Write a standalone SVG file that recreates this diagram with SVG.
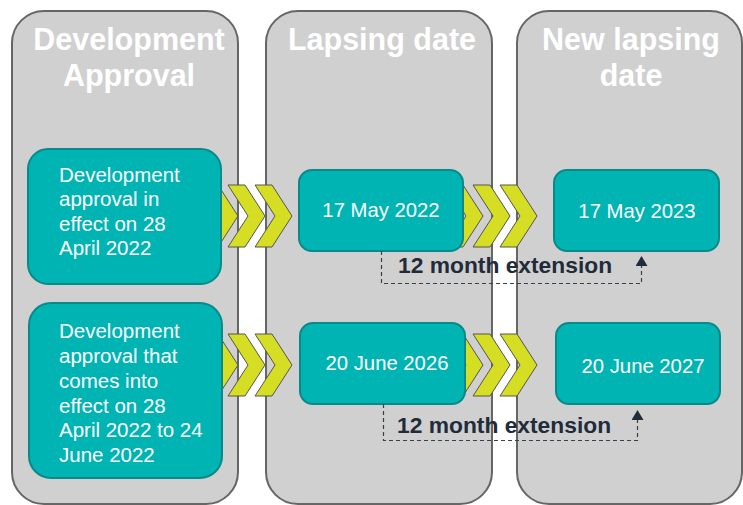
<svg xmlns="http://www.w3.org/2000/svg" width="743" height="505" viewBox="0 0 743 505">
<style>
.col{fill:#d0d0d0;stroke:#666;stroke-width:2}
.hdr{font-family:"Liberation Sans",Arial,sans-serif;font-weight:bold;font-size:30.5px;fill:#fff;text-anchor:middle}
.box{fill:#00b4b4;stroke:#088a8a;stroke-width:2}
.bt{font-family:"Liberation Sans",Arial,sans-serif;font-size:20.5px;fill:#fff}
.dt{font-family:"Liberation Sans",Arial,sans-serif;font-size:20.3px;fill:#fff;text-anchor:middle}
.chev{fill:#d6de23;stroke:#555;stroke-width:1}
.dash{fill:none;stroke:#3a3f48;stroke-width:1.2;stroke-dasharray:4 3}
.lbl{font-family:"Liberation Sans",Arial,sans-serif;font-weight:bold;font-size:22.8px;fill:#222b3a}
</style>
<defs>
<path id="chev" d="M0,-31 h17 l20,31 l-20,31 h-17 l20,-31 z"/>
<marker id="ah" viewBox="0 0 10 12" refX="10" refY="6" markerWidth="10" markerHeight="12" markerUnits="userSpaceOnUse" orient="auto">
<path d="M0,0 L10,6 L0,12 z" fill="#222b3a"/>
</marker>
</defs>
<rect width="743" height="505" fill="#fff"/>
<g id="col-approval"><rect class="col" x="12" y="11" width="226" height="493" rx="32"/>
<text class="hdr" x="129" y="50">Development</text><text class="hdr" x="129" y="86">Approval</text></g>
<g id="col-lapsing"><rect class="col" x="266" y="11" width="226" height="493" rx="32"/>
<text class="hdr" x="382" y="50">Lapsing date</text></g>
<g id="col-new"><rect class="col" x="517" y="11" width="225" height="493" rx="32"/>
<text class="hdr" x="631" y="50">New lapsing</text><text class="hdr" x="631" y="86">date</text></g>
<g id="chevrons">
<use href="#chev" class="chev" x="201" y="216"/><use href="#chev" class="chev" x="228" y="216"/><use href="#chev" class="chev" x="255" y="216"/>
<use href="#chev" class="chev" x="446" y="216"/><use href="#chev" class="chev" x="473" y="216"/><use href="#chev" class="chev" x="500" y="216"/>
<use href="#chev" class="chev" x="201" y="365"/><use href="#chev" class="chev" x="228" y="365"/><use href="#chev" class="chev" x="255" y="365"/>
<use href="#chev" class="chev" x="446" y="365"/><use href="#chev" class="chev" x="473" y="365"/><use href="#chev" class="chev" x="500" y="365"/>
</g>
<g id="box-approval1"><rect class="box" x="28" y="149" width="193" height="135" rx="20"/>
<text class="bt" x="59"><tspan x="59" y="182">Development</tspan><tspan x="59" y="206">approval in</tspan><tspan x="59" y="231">effect on 28</tspan><tspan x="59" y="255">April 2022</tspan></text></g>
<g id="box-approval2"><rect class="box" x="29" y="303" width="193" height="175" rx="22"/>
<text class="bt" x="59"><tspan x="59" y="338">Development</tspan><tspan x="59" y="363">approval that</tspan><tspan x="59" y="388">comes into</tspan><tspan x="59" y="413">effect on 28</tspan><tspan x="59" y="437">April 2022 to 24</tspan><tspan x="59" y="462">June 2022</tspan></text></g>
<g id="box-lapse1"><rect class="box" x="299" y="170" width="164" height="81" rx="13"/>
<text class="dt" x="381" y="217">17 May 2022</text></g>
<g id="box-lapse2"><rect class="box" x="300" y="323" width="165" height="81" rx="13"/>
<text class="dt" x="387" y="370">20 June 2026</text></g>
<g id="box-new1"><rect class="box" x="554" y="170" width="165" height="81" rx="13"/>
<text class="dt" x="637" y="218">17 May 2023</text></g>
<g id="box-new2"><rect class="box" x="556" y="323" width="164" height="81" rx="13"/>
<text class="dt" x="643" y="373">20 June 2027</text></g>
<g id="connectors">
<path class="dash" d="M381.5,251 V283.5 H641.5 V256" marker-end="url(#ah)"/>
<path class="dash" d="M383.5,404 V440.5 H637.5 V410" marker-end="url(#ah)"/>
</g>
<g id="labels">
<text class="lbl" x="398" y="273">12 month extension</text>
<text class="lbl" x="397" y="433">12 month extension</text>
</g>
</svg>
